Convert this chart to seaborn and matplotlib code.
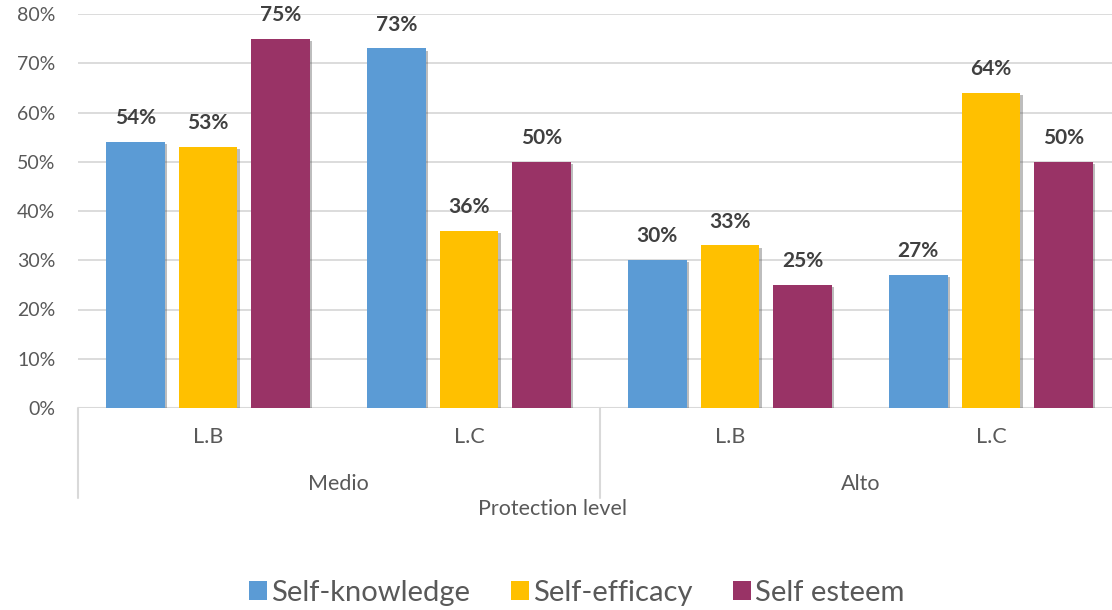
import matplotlib
matplotlib.use("Agg")
import matplotlib.pyplot as plt
import matplotlib.patheffects as pe
from matplotlib.patches import Patch
from matplotlib.transforms import blended_transform_factory
import seaborn as sns
import pandas as pd

# ---- data ----
groups = ["Medio", "Medio", "Alto", "Alto"]
subgroups = ["L.B", "L.C", "L.B", "L.C"]
series_names = ["Self-knowledge", "Self-efficacy", "Self esteem"]
self_knowledge = [54, 73, 30, 27]
self_efficacy = [53, 36, 33, 64]
self_esteem = [75, 50, 25, 50]
colors = ["#5B9BD5", "#FFC000", "#993366"]
y_ticks = [0, 10, 20, 30, 40, 50, 60, 70, 80]
axis_title = "Protection level"

keys = [f"{g}|{s}" for g, s in zip(groups, subgroups)]
rows = []
for name, vals in zip(series_names, [self_knowledge, self_efficacy, self_esteem]):
    for k, v in zip(keys, vals):
        rows.append({"cat": k, "series": name, "value": v / 100})
df = pd.DataFrame(rows)

sns.set_theme(style="white")
plt.rcParams["font.family"] = ["Lato", "DejaVu Sans"]
TXT = "#595959"

fig = plt.figure(figsize=(11.12, 6.10), dpi=100)
W, H = 1112, 610
ax = fig.add_axes([77.5 / W, (H - 408) / H, 1044 / W, 394 / H])

sns.barplot(data=df, x="cat", y="value", hue="series", order=keys,
            hue_order=series_names, palette=colors, width=0.835, gap=0.19,
            saturation=1, legend=False, ax=ax, errorbar=None)

for p in ax.patches:
    p.set_path_effects([pe.SimplePatchShadow(offset=(1.5, -1.5), shadow_rgbFace="#444444", alpha=0.35), pe.Normal()])
    p.set_linewidth(0)

# data labels
for cont in ax.containers:
    labels = [f"{int(round(v * 100))}%" for v in cont.datavalues]
    ax.bar_label(cont, labels=labels, padding=10, fontsize=15, fontweight="bold", color="#404040")

ax.set_xlim(-0.5, 3.5)
ax.set_ylim(0, 0.8)
ax.set_yticks([t / 100 for t in y_ticks])
ax.set_yticklabels([f"{t}%" for t in y_ticks], fontsize=14, color=TXT)
ax.tick_params(axis="y", length=0, pad=16)
ax.set_xticks([])
ax.set_xlabel("")
ax.set_ylabel("")
ax.grid(axis="y", color="#D9D9D9", linewidth=1.3)
ax.set_axisbelow(True)
for s in ["top", "right", "left", "bottom"]:
    ax.spines[s].set_visible(False)
ax.axhline(0, color="#D9D9D9", linewidth=1.5, zorder=0.5)

# hierarchical category labels
tr = blended_transform_factory(ax.transData, fig.transFigure)
for i, s in enumerate(subgroups):
    ax.text(i, 1 - 437 / H, s, transform=tr, ha="center", va="center", fontsize=15.5, color=TXT)
outer = []
for i, g in enumerate(groups):
    if not outer or outer[-1][0] != g:
        outer.append([g, i, i])
    else:
        outer[-1][2] = i
for g, a, b in outer:
    ax.text((a + b) / 2, 1 - 484 / H, g, transform=tr, ha="center", va="center", fontsize=15.5, color=TXT)
    ax.plot([a - 0.5, a - 0.5], [1 - 408 / H, 1 - 498 / H], transform=tr, color="#D9D9D9",
            linewidth=1.5, clip_on=False)

fig.text(553 / W, 1 - 509 / H, axis_title, ha="center", va="center", fontsize=15.5, color=TXT)

handles = [Patch(facecolor=c, edgecolor="none", label=n) for c, n in zip(colors, series_names)]
fig.legend(handles=handles, loc="center", bbox_to_anchor=(577 / W, 1 - 593 / H), ncol=3,
           frameon=False, fontsize=21, handlelength=0.6, handleheight=0.6,
           handletextpad=0.15, columnspacing=1.4, labelcolor=TXT)

fig.savefig("out.png", dpi=100)
